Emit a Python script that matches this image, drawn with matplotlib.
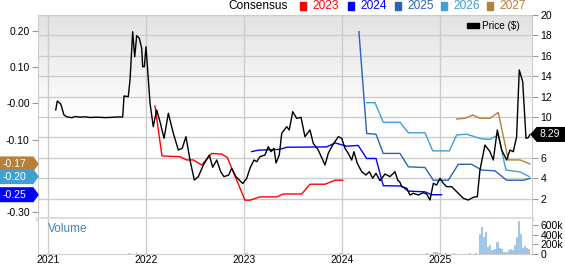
import numpy as np
import matplotlib.pyplot as plt
import matplotlib.transforms as mtransforms
from matplotlib.colors import LinearSegmentedColormap
from matplotlib.patches import Polygon, Rectangle

plt.rcParams['font.family'] = ['Liberation Sans', 'DejaVu Sans']

# price ($), dates as fractional years
price_t = [2021.079, 2021.095, 2021.130, 2021.163, 2021.190, 2021.242, 2021.280, 2021.327,
           2021.380, 2021.430, 2021.480, 2021.530, 2021.580, 2021.633, 2021.700, 2021.762,
           2021.776, 2021.819, 2021.837, 2021.864, 2021.885, 2021.905, 2021.932, 2021.956,
           2021.966, 2021.983, 2022.000, 2022.017, 2022.041, 2022.074, 2022.109, 2022.143,
           2022.184, 2022.228, 2022.279, 2022.330, 2022.370, 2022.408, 2022.449, 2022.493,
           2022.534, 2022.585, 2022.646, 2022.681, 2022.722, 2022.762, 2022.796, 2022.844,
           2022.874, 2022.918, 2022.987, 2023.028, 2023.061, 2023.102, 2023.130, 2023.163,
           2023.214, 2023.248, 2023.276, 2023.306, 2023.327, 2023.360, 2023.385, 2023.436,
           2023.462, 2023.497, 2023.538, 2023.582, 2023.622, 2023.673, 2023.707, 2023.758,
           2023.827, 2023.860, 2023.895, 2023.929, 2023.962, 2023.997, 2024.031, 2024.064,
           2024.099, 2024.122, 2024.156, 2024.201, 2024.245, 2024.279, 2024.313, 2024.347,
           2024.388, 2024.439, 2024.490, 2024.541, 2024.568, 2024.592, 2024.609, 2024.660,
           2024.694, 2024.728, 2024.779, 2024.830, 2024.864, 2024.898, 2024.932, 2024.966,
           2025.000, 2025.034, 2025.068, 2025.119, 2025.153, 2025.204, 2025.238, 2025.289,
           2025.340, 2025.381, 2025.408, 2025.459, 2025.510, 2025.544, 2025.585, 2025.630,
           2025.680, 2025.714, 2025.748, 2025.782, 2025.809, 2025.844, 2025.878, 2025.901,
           2025.918]
price_v = [10.69, 11.57, 11.27, 10.20, 10.03, 9.93, 10.05, 9.98,
           10.02, 9.95, 9.98, 9.97, 9.94, 9.96, 10.00, 10.00,
           12.06, 11.99, 13.63, 18.36, 15.91, 17.97, 17.72, 16.74,
           14.93, 14.93, 16.89, 14.61, 11.37, 9.05, 10.69, 9.54,
           7.91, 10.36, 8.40, 6.76, 6.93, 8.07, 5.78, 3.82,
           4.15, 5.29, 6.27, 5.07, 5.78, 4.64, 4.15, 4.31,
           4.97, 4.15, 3.48, 3.99, 4.97, 5.78, 5.62, 6.11,
           6.27, 7.09, 6.60, 6.93, 5.49, 6.27, 8.40, 9.05,
           8.73, 10.52, 9.87, 9.97, 8.07, 8.73, 7.42, 6.76,
           5.29, 6.44, 7.09, 7.58, 8.07, 7.91, 6.93, 6.44,
           5.78, 6.60, 5.46, 4.64, 4.31, 4.64, 3.99, 4.48,
           3.76, 4.41, 4.15, 4.64, 3.82, 3.60, 3.17, 3.01,
           2.35, 2.52, 2.35, 2.58, 2.45, 1.86, 3.50, 3.33,
           3.99, 3.50, 3.17, 3.17, 2.84, 2.35, 2.03, 1.86,
           2.13, 2.19, 4.80, 7.25, 6.60, 5.78, 8.73, 6.76,
           5.78, 6.76, 6.60, 8.07, 14.61, 13.46, 7.91, 7.97,
           8.29]

# consensus EPS estimates by fiscal year
eps23_t = [2022.092, 2022.163, 2022.347, 2022.415, 2022.483, 2022.568, 2022.670, 2022.772,
           2022.829, 2023.010, 2023.061, 2023.163, 2023.333, 2023.401, 2023.589, 2023.673,
           2023.827, 2023.929, 2024.007]
eps23_v = [-0.007, -0.145, -0.147, -0.156, -0.156, -0.170, -0.138, -0.140,
           -0.149, -0.267, -0.267, -0.258, -0.258, -0.250, -0.250, -0.223,
           -0.223, -0.212, -0.212]

eps24_t = [2023.079, 2023.146, 2023.360, 2023.436, 2023.844, 2023.929, 2024.048, 2024.166,
           2024.252, 2024.347, 2024.421, 2024.609, 2024.677, 2024.847, 2024.915, 2025.017]
eps24_v = [-0.133, -0.129, -0.127, -0.121, -0.120, -0.109, -0.118, -0.116,
           -0.152, -0.152, -0.227, -0.228, -0.242, -0.244, -0.252, -0.252]

eps25_t = [2024.173, 2024.252, 2024.347, 2024.421, 2024.592, 2024.677, 2024.847, 2024.932,
           2025.085, 2025.187, 2025.323, 2025.426, 2025.561, 2025.680, 2025.850, 2025.918]
eps25_v = [0.198, -0.083, -0.085, -0.138, -0.138, -0.175, -0.177, -0.212,
           -0.212, -0.168, -0.168, -0.184, -0.186, -0.212, -0.212, -0.207]

eps26_t = [2024.252, 2024.337, 2024.421, 2024.592, 2024.677, 2024.847, 2024.926, 2025.095,
           2025.170, 2025.272, 2025.426, 2025.510, 2025.595, 2025.673, 2025.816, 2025.911]
eps26_v = [0.002, 0.002, -0.052, -0.052, -0.081, -0.081, -0.131, -0.131,
           -0.087, -0.085, -0.098, -0.099, -0.087, -0.184, -0.189, -0.202]

eps27_t = [2025.170, 2025.255, 2025.334, 2025.408, 2025.510, 2025.595, 2025.697, 2025.816, 2025.918]
eps27_v = [-0.043, -0.041, -0.032, -0.041, -0.041, -0.025, -0.156, -0.156, -0.167]

# volume (shares)
vol_t = [2021.10, 2021.18, 2021.26, 2021.34, 2021.42, 2021.50, 2021.58, 2021.66, 2021.74,
         2021.82, 2021.90, 2021.98, 2022.06, 2022.14, 2022.22, 2022.30, 2022.38, 2022.46,
         2022.54, 2022.62, 2022.70, 2022.78, 2022.86, 2022.94, 2023.02, 2023.10, 2023.18,
         2023.26, 2023.34, 2023.42, 2023.50, 2023.58, 2023.66, 2023.74, 2023.82, 2023.90,
         2023.98, 2024.06, 2024.14, 2024.22, 2024.30, 2024.38, 2024.46, 2024.54, 2024.62,
         2024.70, 2024.78, 2024.86, 2024.93, 2024.96, 2024.99, 2025.06, 2025.14, 2025.22,
         2025.30, 2025.36,
         2025.405, 2025.425, 2025.446, 2025.466, 2025.487, 2025.503, 2025.523, 2025.544,
         2025.561, 2025.582, 2025.602, 2025.622, 2025.640, 2025.660, 2025.680, 2025.701,
         2025.721, 2025.742, 2025.762, 2025.782, 2025.803, 2025.823, 2025.844, 2025.864,
         2025.885, 2025.905]
vol_v = [8e3, 6e3, 5e3, 7e3, 5e3, 6e3, 5e3, 6e3, 7e3,
         12e3, 15e3, 10e3, 8e3, 7e3, 6e3, 7e3, 6e3, 8e3,
         6e3, 5e3, 6e3, 7e3, 6e3, 8e3, 14e3, 9e3, 6e3,
         7e3, 6e3, 8e3, 7e3, 6e3, 7e3, 6e3, 8e3, 9e3,
         12e3, 22e3, 10e3, 8e3, 9e3, 8e3, 7e3, 9e3, 8e3,
         10e3, 9e3, 11e3, 42e3, 45e3, 30e3, 15e3, 12e3, 10e3,
         14e3, 12e3,
         422e3, 564e3, 364e3, 456e3, 150e3, 193e3, 80e3, 80e3,
         100e3, 250e3, 135e3, 107e3, 50e3, 50e3, 45e3, 80e3,
         100e3, 90e3, 193e3, 364e3, 686e3, 422e3, 135e3, 171e3,
         135e3, 100e3]

years = [2021, 2022, 2023, 2024, 2025]
price_ticks = [2, 4, 6, 8, 10, 12, 14, 16, 18, 20]
price_labels = ['2', '4', '6', '', '10', '12', '14', '16', '18', '20']  # 8 sits under the last-price tag
eps_ticks = [0.20, 0.10, 0.0, -0.10, -0.20, -0.30]
eps_labels = ['0.20', '0.10', '-0.00', '-0.10', '', '-0.30']  # -0.20 sits under the estimate tags
vol_ticks = [0, 200e3, 400e3, 600e3]
vol_labels = ['0', '200k', '400k', '600k']

c23, c24, c25, c26, c27 = '#ff0000', '#0000ff', '#2a64b4', '#41a0d2', '#b5803a'
grid_c = '#cccccc'

W, H = 565, 264
fig = plt.figure(figsize=(W / 100, H / 100), dpi=100)
x0, x1 = 38 / W, 532 / W
ax_p = fig.add_axes([x0, 1 - 219 / H, x1 - x0, 204 / H])
ax_v = fig.add_axes([x0, 1 - 254 / H, x1 - x0, 35 / H], sharex=ax_p)
ax_e = ax_p.twinx()

xlim = (2020.898, 2025.939)

# gradient background
cmap = LinearSegmentedColormap.from_list('bg', ['#ffffff', '#ffffff', '#e2e2e2'])
ax_p.imshow(np.linspace(1, 0, 256).reshape(-1, 1), cmap=cmap, aspect='auto',
            extent=[0, 1, 0, 1], transform=ax_p.transAxes, zorder=0)

# price axis (right)
ax_p.yaxis.tick_right()
ax_p.set_ylim(0, 20)
ax_p.set_yticks(price_ticks)
ax_p.set_yticklabels(price_labels)
ax_p.set_xlim(*xlim)
ax_p.set_xticks(years)
ax_p.grid(True, color=grid_c, lw=1.0)
ax_p.set_axisbelow(True)
ax_p.tick_params(axis='y', direction='out', length=4, color='#999999', labelsize=7.5, pad=2)
ax_p.tick_params(axis='x', length=0, labelbottom=False)
for s in ['left', 'right', 'top']:
    ax_p.spines[s].set_color(grid_c)
ax_p.spines['bottom'].set_color('#dddddd')
ax_p.spines['bottom'].set_linewidth(3)

# eps axis (left)
ax_e.yaxis.tick_left()
ax_e.set_ylim(-0.319, 0.244)
ax_e.set_yticks(eps_ticks)
ax_e.set_yticklabels(eps_labels)
ax_e.tick_params(axis='y', direction='out', length=4, color='#999999', labelsize=7.5, pad=2)
for s in ax_e.spines.values():
    s.set_visible(False)

ax_e.plot(eps23_t, eps23_v, color=c23, lw=1.0, zorder=2)
ax_e.plot(eps24_t, eps24_v, color=c24, lw=1.0, zorder=2)
ax_e.plot(eps25_t, eps25_v, color=c25, lw=1.0, zorder=2)
ax_e.plot(eps26_t, eps26_v, color=c26, lw=1.0, zorder=2)
ax_e.plot(eps27_t, eps27_v, color=c27, lw=1.0, zorder=2)
ax_e.plot(price_t, price_v, color='black', lw=1.0, zorder=3, transform=ax_p.transData)
ax_e.set_xlim(*xlim)

# volume panel
ax_v.bar(vol_t, vol_v, width=0.012, color='#a9cbe9', edgecolor='#7aaedb', lw=0.4, zorder=2)
ax_v.set_ylim(0, 730e3)
ax_v.yaxis.tick_right()
ax_v.set_yticks(vol_ticks)
ax_v.set_yticklabels(vol_labels)
ax_v.set_xticks(years)
ax_v.set_xticklabels([str(y) for y in years])
ax_v.grid(True, axis='x', color=grid_c, lw=1.0)
ax_v.set_axisbelow(True)
ax_v.tick_params(axis='y', direction='out', length=4, color='#999999', labelsize=7.5, pad=2)
ax_v.tick_params(axis='x', direction='out', length=0, color='#999999', labelsize=7.5, pad=1)
for s in ['left', 'right', 'bottom']:
    ax_v.spines[s].set_color(grid_c)
ax_v.spines['top'].set_visible(False)
ax_v.text(0.02, 0.72, 'Volume', transform=ax_v.transAxes, color='#3d85c6',
          fontsize=8.5, va='center', ha='left')

# price legend
ax_p.add_patch(Rectangle((467 / W, 1 - 28 / H), 12 / W, 5 / H, transform=fig.transFigure,
                         color='black', clip_on=False, zorder=5))
fig.text(482 / W, 1 - 26 / H, 'Price ($)', fontsize=7.2, va='center', ha='left')

# consensus legend on top
fig.text(228 / W, 1 - 6 / H, 'Consensus', fontsize=8.6, va='center', ha='left')
leg = [('2023', c23, 300), ('2024', c24, 348), ('2025', c25, 395),
       ('2026', c26, 441), ('2027', c27, 487)]
for lab, col, px in leg:
    fig.patches.append(Rectangle((px / W, 1 - 10 / H), 6 / W, 8 / H,
                                 transform=fig.transFigure, color=col))
    fig.text((px + 12) / W, 1 - 6 / H, lab, color=col, fontsize=8.6, va='center', ha='left')

# left markers with latest estimates
tr_e = mtransforms.blended_transform_factory(fig.transFigure, ax_e.transData)
hh = 6.8 / 362
marks = [(eps27_v[-1], c27, '-0.17'), (eps26_v[-1], c26, '-0.20'), (eps24_v[-1], c24, '-0.25')]
for v, col, lab in marks:
    poly = Polygon([(0, v - hh), (33 / W, v - hh), (38 / W, v), (33 / W, v + hh), (0, v + hh)],
                   closed=True, transform=tr_e, color=col, zorder=10, clip_on=False)
    fig.add_artist(poly)
    fig.text(3 / W, v, lab, transform=tr_e, color='white', fontsize=7.5,
             va='center', ha='left', zorder=11)

# right marker with last price
tr_p = mtransforms.blended_transform_factory(fig.transFigure, ax_p.transData)
lp = price_v[-1]
hp = 6.8 / 10.2
poly = Polygon([(531 / W, lp), (537 / W, lp + hp), (565 / W, lp + hp),
                (565 / W, lp - hp), (537 / W, lp - hp)],
               closed=True, transform=tr_p, color='black', zorder=10, clip_on=False)
fig.add_artist(poly)
fig.text(540 / W, lp, f'{lp:.2f}', transform=tr_p, color='white', fontsize=7.5,
         va='center', ha='left', zorder=11)

fig.savefig('out.png', dpi=100)
